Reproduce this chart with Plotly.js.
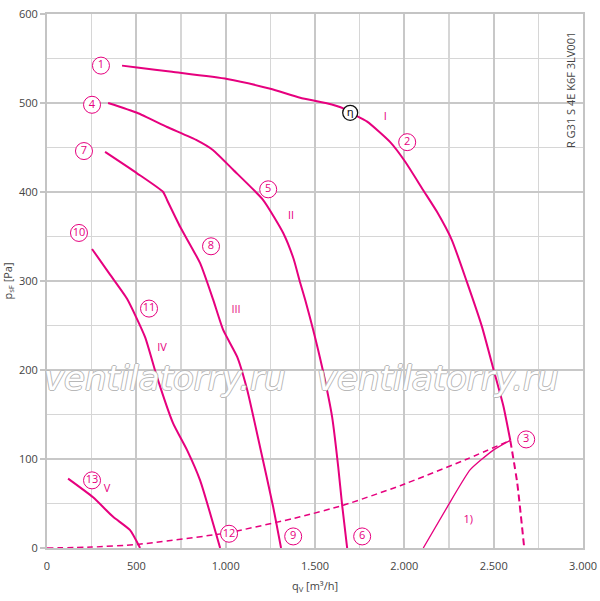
<!DOCTYPE html>
<html>
<head>
<meta charset="utf-8">
<script src="https://cdn.plot.ly/plotly-3.0.1.min.js"></script>
<style>html,body{margin:0;padding:0;background:#fff;}#chart{width:600px;height:601px;}</style>
</head>
<body>
<div id="chart"></div>
<script>
// Curve I (1 -> 2 -> 3)
const curveI_x = [420, 504, 700, 1008, 1250, 1417, 1560, 1658, 1697, 1792, 1921, 2005, 2106, 2182, 2266, 2350, 2434, 2500, 2555, 2593];
const curveI_y = [542, 540, 535, 527, 516, 506, 500, 494, 489, 479, 456, 434, 402, 378, 346, 299, 249, 200, 159, 121];
const curveI_ext_x = [2593, 2632, 2671];
const curveI_ext_y = [121, 73, 0];
// Curve II (4 -> 5 -> 6)
const curveII_x = [342, 504, 672, 840, 930, 1042, 1210, 1322, 1380, 1417, 1445, 1490, 1540, 1596, 1630, 1652, 1680];
const curveII_y = [500, 489, 473, 458, 447, 425, 391, 354, 325, 298, 279, 245, 203, 147, 91, 48, 0];
// Curve III (7 -> 8 -> 9)
const curveIII_x = [325, 504, 650, 672, 745, 857, 930, 986, 1064, 1120, 1193, 1266, 1310];
const curveIII_y = [445, 421, 400, 391, 361, 320, 279, 245, 215, 178, 113, 46, 0];
// Curve IV (10 -> 11 -> 12)
const curveIV_x = [252, 350, 448, 549, 616, 706, 784, 857, 969];
const curveIV_y = [336, 308, 280, 237, 192, 140, 110, 76, 0];
// Curve V (13)
const curveV_x = [118, 258, 370, 465, 521];
const curveV_y = [78, 57, 35, 20, 0];
// System curve (dashed)
const sys_x = [0, 250, 504, 1008, 1417, 1658, 1977, 2352, 2593];
const sys_y = [0, 1, 4, 17, 35, 48, 70, 100, 121];
// Curve 1)
const c1_x = [2106, 2240, 2369, 2498, 2593];
const c1_y = [0, 46, 88, 110, 121];
// Circled point labels
const pt_labels = ["1","2","3","4","5","6","7","8","9","10","11","12","13"];
const pt_x = [302, 2016, 2682, 252, 1238, 1764, 207, 918, 1378, 179, 571, 1019, 252];
const pt_y = [542, 456, 122, 498, 403, 13, 446, 339, 13, 354, 269, 16, 76];
// Optimum (eta) marker
const eta_x = [1697];
const eta_y = [489];
// Roman curve names
const rom_labels = ["I", "II", "III", "IV", "V", "1)"];
const rom_x = [1893, 1366, 1058, 644, 336, 2358];
const rom_y = [484, 373, 267, 224, 66, 31];
// Axis ticks
const x_tickvals = [0, 500, 1000, 1500, 2000, 2500, 3000];
const x_ticktext = ["0", "500", "1.000", "1.500", "2.000", "2.500", "3.000"];
const y_tickvals = [0, 100, 200, 300, 400, 500, 600];

const MAG = '#e6007e';
const lineTrace = (x, y, w, dash) => ({x, y, type:'scatter', mode:'lines', line:{color:MAG, width:w, dash:dash||'solid', shape:'spline', smoothing:0.5}, hoverinfo:'skip'});

const data = [
  lineTrace(sys_x, sys_y, 1.5, '6px,4px'),
  lineTrace(c1_x, c1_y, 1.3),
  lineTrace(curveI_x, curveI_y, 2),
  lineTrace(curveI_ext_x, curveI_ext_y, 2, '7px,4px'),
  lineTrace(curveII_x, curveII_y, 2),
  lineTrace(curveIII_x, curveIII_y, 2),
  lineTrace(curveIV_x, curveIV_y, 2),
  lineTrace(curveV_x, curveV_y, 2),
  {x:pt_x, y:pt_y, text:pt_labels, type:'scatter', mode:'markers+text', textposition:'middle center',
   marker:{symbol:'circle', size:17, color:'#ffffff', line:{color:MAG, width:1}},
   textfont:{family:'Open Sans, sans-serif', size:11, color:MAG}, hoverinfo:'skip'},
  {x:eta_x, y:eta_y, text:['η'], type:'scatter', mode:'markers+text', textposition:'middle center',
   marker:{symbol:'circle', size:15, color:'#ffffff', line:{color:'#111', width:1.3}},
   textfont:{family:'DejaVu Sans, sans-serif', size:11, color:'#111'}, hoverinfo:'skip'},
  {x:rom_x, y:rom_y, text:rom_labels, type:'scatter', mode:'text', textposition:'middle center',
   textfont:{family:'Open Sans, sans-serif', size:11, color:MAG}, hoverinfo:'skip'}
];

const wm = (xp) => ({xref:'paper', yref:'paper', x:xp, y:0.318, xanchor:'center', yanchor:'middle', text:'<i>ventilatorry.ru</i>', showarrow:false,
  font:{family:'DejaVu Sans, sans-serif', size:34, color:'#ffffff', shadow:'1px 0 0 #b8b8b8, -1px 0 0 #b8b8b8, 0 1px 0 #b8b8b8, 0 -1px 0 #b8b8b8'}});

const layout = {
  width:600, height:601,
  margin:{l:47, r:17, t:14, b:53},
  paper_bgcolor:'#ffffff', plot_bgcolor:'#ffffff',
  showlegend:false,
  font:{family:'Open Sans, sans-serif', size:11, color:'#444'},
  xaxis:{range:[0,3000], tickvals:x_tickvals, ticktext:x_ticktext, showgrid:true, gridcolor:'#c8c8c8', gridwidth:2,
    minor:{dtick:250, tick0:0, showgrid:true, gridcolor:'#d6d6d6', gridwidth:1.6}, zeroline:false,
    showline:true, linecolor:'#c4c4c4', linewidth:2, mirror:true, ticks:'', ticklabelstandoff:7,
    tickfont:{size:11, color:'#444'}, fixedrange:true,
    title:{text:'q<sub>V</sub> [m³/h]', font:{size:11, color:'#444'}, standoff:10}},
  yaxis:{range:[0,600], tickvals:y_tickvals, showgrid:true, gridcolor:'#c8c8c8', gridwidth:2,
    minor:{dtick:50, tick0:0, showgrid:true, gridcolor:'#d6d6d6', gridwidth:1.6}, zeroline:false,
    showline:true, linecolor:'#c4c4c4', linewidth:2, mirror:true, ticks:'outside', ticklen:5, tickcolor:'#c4c4c4', tickwidth:1.5,
    tickfont:{size:11, color:'#444'}, fixedrange:true,
    title:{text:'p<sub>sF</sub> [Pa]', font:{size:11, color:'#444'}, standoff:4}},
  annotations:[
    wm(0.22), wm(0.73),
    {xref:'paper', yref:'paper', x:0.977, y:0.857, xanchor:'center', yanchor:'middle', text:'R G31 S 4E K6F 3LV001', textangle:-90, showarrow:false,
     font:{family:'Open Sans, sans-serif', size:11, color:'#444'}}
  ]
};

Plotly.newPlot('chart', data, layout, {displayModeBar:false, staticPlot:true});
</script>
</body>
</html>
